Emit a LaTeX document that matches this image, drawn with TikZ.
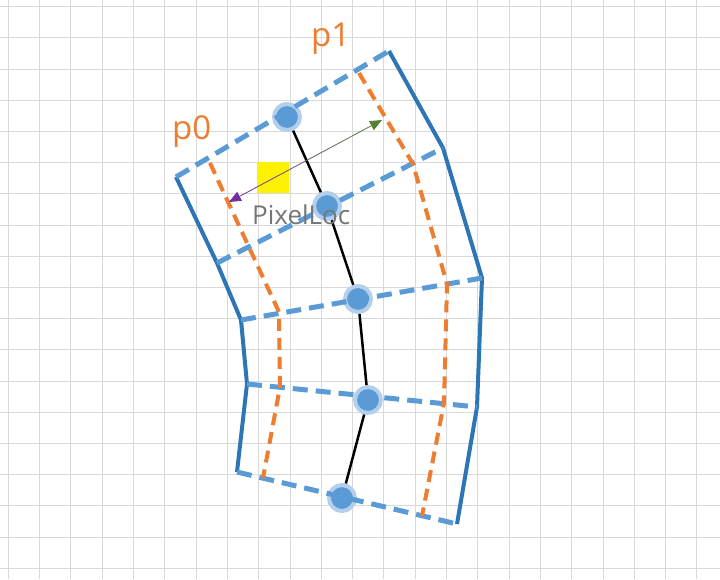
\documentclass[tikz,border=0pt]{standalone}
\usepackage{fontspec}
\setmainfont{Open Sans}
\usetikzlibrary{arrows.meta,calc}
\definecolor{sblue}{HTML}{2E75B6}
\definecolor{dblue}{HTML}{5B9BD5}
\definecolor{halo}{HTML}{B4CFEC}
\definecolor{oran}{HTML}{ED7D31}
\definecolor{gridc}{HTML}{D9D9D9}
\definecolor{purp}{HTML}{7030A0}
\definecolor{grn}{HTML}{548235}
\definecolor{txtg}{HTML}{767676}
\begin{document}
\begin{tikzpicture}[x=1pt,y=-1pt,
  gridline/.style={draw=gridc,line width=1pt},
  solidedge/.style={draw=sblue,line width=4pt,line join=miter},
  crossline/.style={draw=dblue,line width=5pt,dash pattern=on 15pt off 8pt},
  midline/.style={draw=oran,line width=4pt,dash pattern=on 12pt off 7pt},
  spine/.style={draw=black,line width=2.5pt},
  ptnode/.style={circle,fill=dblue,draw=halo,line width=4pt,minimum size=26pt,inner sep=0pt},
  lbl/.style={text=oran,font=\fontsize{33}{33}\selectfont,inner sep=0pt,anchor=base west},
  loclbl/.style={text=txtg,font=\fontsize{26}{26}\selectfont,inner sep=0pt,anchor=base west},
  ]
\useasboundingbox (0,0) rectangle (720,579);
\fill[white] (0,0) rectangle (720,579);
\foreach \k in {0,...,22} \draw[gridline] ({8.3+31.3*\k},0) -- ({8.3+31.3*\k},579);
\foreach \k in {0,...,18} \draw[gridline] (0,{6.7+31.2*\k}) -- (720,{6.7+31.2*\k});

% corners
\coordinate (L1) at (176,177);
\coordinate (L2) at (217,263);
\coordinate (L3) at (241,320);
\coordinate (L4) at (247,384);
\coordinate (L5) at (237,472);
\coordinate (R1) at (389,51);
\coordinate (R2) at (443,148);
\coordinate (R3) at (482,278);
\coordinate (R4) at (477,407);
\coordinate (R5) at (457,524);
% orange mid lines
\coordinate (O1) at (210,163);
\coordinate (O3) at (279,312);
\coordinate (O4) at (280,387);
\coordinate (O5) at (263,478);
\coordinate (P1) at (359,73);
\coordinate (P2) at (413,164);
\coordinate (P3) at (447,284);
\coordinate (P4) at (444,403);
\coordinate (P5) at (422,516);

% yellow square
\fill[yellow] (257,162) rectangle (289,193);

% spine and points
\node[ptnode] (c1) at (287,117) {};
\node[ptnode] (c2) at (327,206) {};
\node[ptnode] (c3) at (358,299) {};
\node[ptnode] (c4) at (368,400) {};
\node[ptnode] (c5) at (342,498) {};
\draw[spine] (c1) -- (c2) -- (c3) -- (c4) -- (c5);

% outer solid sides
\draw[solidedge] (L1) -- (L2) -- (L3) -- (L4) -- (L5);
\draw[solidedge] (R1) -- (R2) -- (R3) -- (R4) -- (R5);
% cross lines
\draw[crossline] (L1) -- (R1);
\draw[crossline] (L2) -- (R2);
\draw[crossline] (L3) -- (R3);
\draw[crossline] (L4) -- (R4);
\draw[crossline] (L5) -- (R5);
% orange
\draw[midline] (O1) -- (O3) -- (O4) -- (O5);
\draw[midline] (P1) -- (P2) -- (P3) -- (P4) -- (P5);

% gradient arrow
\coordinate (A) at (229,202);
\coordinate (B) at (382,120);
\foreach \i in {1,...,8} {
  \pgfmathsetmacro{\pa}{\i/10}
  \pgfmathsetmacro{\pb}{(\i+1)/10}
  \pgfmathtruncatemacro{\mix}{100-\i*11}
  \draw[purp!\mix!grn,line width=0.8pt] ($(A)!\pa!(B)$) -- ($(A)!\pb!(B)$);
}
\draw[purp,line width=0.8pt,{Triangle[length=12pt,width=10pt]}-] (A) -- ($(A)!0.1!(B)$);
\draw[grn,line width=0.8pt,-{Triangle[length=12pt,width=10pt]}] ($(A)!0.9!(B)$) -- (B);

% labels
\node[loclbl] (loc) at (252,224) {PixelLoc};
\node[lbl] (p0) at (172,139) {p0};
\node[lbl] (p1) at (311,46) {p1};
\end{tikzpicture}
\end{document}
